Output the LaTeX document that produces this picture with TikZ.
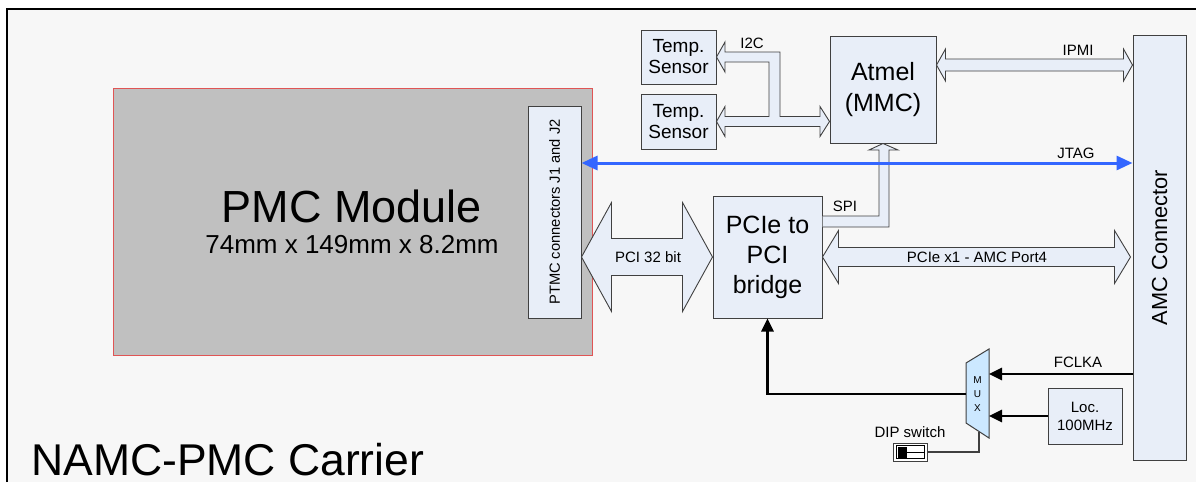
\documentclass[tikz,border=0pt]{standalone}
\usepackage{fontspec}
\setmainfont{Liberation Sans}
\usetikzlibrary{arrows.meta,calc}
\definecolor{bgc}{HTML}{F7F7F7}
\definecolor{boxfill}{HTML}{E8EEF8}
\definecolor{boxline}{HTML}{404040}
\definecolor{pmcgray}{HTML}{C0C0C0}
\definecolor{pmcred}{HTML}{E05555}
\definecolor{muxfill}{HTML}{CCE8FF}
\definecolor{jtagblue}{HTML}{3366FF}
\newcommand{\fsz}[2]{\fontsize{#1}{#2}\selectfont}
\newcommand{\hdblarrow}[5]{%
  \draw[fatarrow] let \p1=#1, \p2=#2 in
    (\x1,\y1) -- (\x1+#5pt,\y1+#4pt) -- (\x1+#5pt,\y1+#3pt) -- (\x2-#5pt,\y1+#3pt)
    -- (\x2-#5pt,\y1+#4pt) -- (\x2,\y1) -- (\x2-#5pt,\y1-#4pt) -- (\x2-#5pt,\y1-#3pt)
    -- (\x1+#5pt,\y1-#3pt) -- (\x1+#5pt,\y1-#4pt) -- cycle;}
\tikzset{
  box/.style={draw=boxline, fill=boxfill, line width=1pt, inner sep=0pt, align=center},
  fatarrow/.style={draw=boxline, fill=boxfill, line width=0.9pt, line join=miter},
  blkarrow/.style={line width=2.6pt, -{Triangle[length=13pt,width=12pt]}},
  jtag/.style={jtagblue, line width=3pt, {Triangle[length=16pt,width=14pt]}-{Triangle[length=16pt,width=14pt]}},
  lbl/.style={font=\fsz{15}{18}, inner sep=0pt},
}
\begin{document}
\begin{tikzpicture}[x=1pt,y=-1pt]
\useasboundingbox (0,0) rectangle (1196,482);
\fill[white] (0,0) rectangle (1196,482);
\fill[bgc] (7,9) rectangle (1196,482);
\draw[line width=1.4pt] (7,482) -- (7,9) -- (1196,9);

% PMC module
\node[draw=pmcred, fill=pmcgray, line width=1pt, minimum width=479pt, minimum height=267pt, inner sep=0pt] (pmc) at (352.5,221.5) {};
\node[inner sep=0pt, font=\fsz{45}{50}] (pmctitle) at (352,206) {PMC Module};
\node[inner sep=0pt, font=\fsz{26}{30}] (pmcsize) at (352,245) {74mm x 149mm x 8.2mm};
\node[box, minimum width=53pt, minimum height=212pt] (ptmc) at (554.5,212) {};
\node[rotate=90, inner sep=0pt, font=\fsz{14.7}{17}] (ptmctext) at (ptmc.center) {PTMC connectors J1 and J2};

% boxes
\node[box, minimum width=75pt, minimum height=54pt, font=\fsz{19}{21}] (ts1) at (678.5,57) {Temp.\\Sensor};
\node[box, minimum width=75pt, minimum height=55pt, font=\fsz{19}{21}] (ts2) at (678.5,121.5) {Temp.\\Sensor};
\node[box, minimum width=106pt, minimum height=107pt, font=\fsz{25}{31}] (atmel) at (883,89.5) {Atmel\\(MMC)};
\node[box, minimum width=53pt, minimum height=425pt] (amc) at (1159.5,247.5) {};
\node[rotate=90, inner sep=0pt, font=\fsz{21.8}{25}] (amctext) at (amc.center) {AMC Connector};
\node[box, minimum width=109pt, minimum height=122pt, font=\fsz{25}{30}] (bridge) at (767.5,257) {PCIe to\\PCI\\bridge};
\node[box, minimum width=74pt, minimum height=56pt, font=\fsz{15}{18}] (loc) at (1085,416) {Loc.\\100MHz};

% MUX
\draw[draw=boxline, fill=muxfill, line width=1pt] (966,363) -- (989,349) -- (989,438) -- (966,423) -- cycle;
\node[inner sep=0pt, font=\fsz{10}{14}, align=center] (mux) at (977.5,394) {M\\U\\X};
\coordinate (muxin1) at (989,374);
\coordinate (muxin2) at (989,416);
\coordinate (muxout) at (966,394);
\coordinate (muxsel) at (979,431.5);

% DIP switch
\node[draw=boxline, fill=white, line width=1pt, minimum width=34pt, minimum height=18pt, inner sep=0pt] (dip) at (910,452) {};
\draw[line width=0.8pt] (896,445.5) rectangle (924,458.5);
\fill (898,446.5) rectangle (907,457.5);
\draw[line width=0.8pt] (907,452) -- (924,452);
\node[lbl] (diplbl) at (910,432) {DIP switch};

% fat arrows
\draw[fatarrow] (ts1.east) -- (725,42) -- (725,52) -- (780,52) -- (780,116.5) -- (820,116.5) -- (820,106.5)
  -- (atmel.west |- ts2.east) -- (820,136.5) -- (820,126.5) -- (725,126.5) -- (725,136.5) -- (ts2.east)
  -- (725,106.5) -- (725,116.5) -- (769,116.5) -- (769,62) -- (725,62) -- (725,72) -- cycle;
\node[lbl] (i2c) at (752,43) {I2C};

\draw[fatarrow] (bridge.east |- 0,216) -- (879,216) -- (879,150) -- (869,150) -- (atmel.south)
  -- (898,150) -- (889,150) -- (889,227) -- (bridge.east |- 0,227);
\node[lbl] (spi) at (845,206) {SPI};

\hdblarrow{(atmel.east |- 0,65)}{(amc.west |- 0,65)}{6}{16}{9}
\node[lbl] (ipmi) at (1078,50) {IPMI};

\hdblarrow{(ptmc.east |- bridge.west)}{(bridge.west)}{18.5}{54.5}{30}
\node[lbl] (pci) at (648,257) {PCI 32 bit};

\hdblarrow{(bridge.east)}{($(amc.west |- bridge.east)+(-2,0)$)}{9.5}{26.5}{16}
\node[lbl] (pcie) at (977,257) {PCIe x1 - AMC Port4};

% JTAG
\coordinate (jtagy) at (850,163);
\draw[jtag] (ptmc.east |- jtagy) -- (amc.west |- jtagy);
\node[lbl] (jtaglbl) at (1076,153) {JTAG};

% clock arrows
\draw[blkarrow] (amc.west |- muxin1) -- (muxin1);
\node[lbl] (fclka) at (1078,362) {FCLKA};
\draw[blkarrow] (loc.west) -- (muxin2);
\draw[blkarrow] (muxout) -| (bridge.south);
\draw[line width=1.2pt, boxline] (dip.east) -| (muxsel);

% title
\node[inner sep=0pt, anchor=base west, font=\fsz{44.5}{50}] (title) at (31,475) {NAMC-PMC Carrier};
\end{tikzpicture}
\end{document}
